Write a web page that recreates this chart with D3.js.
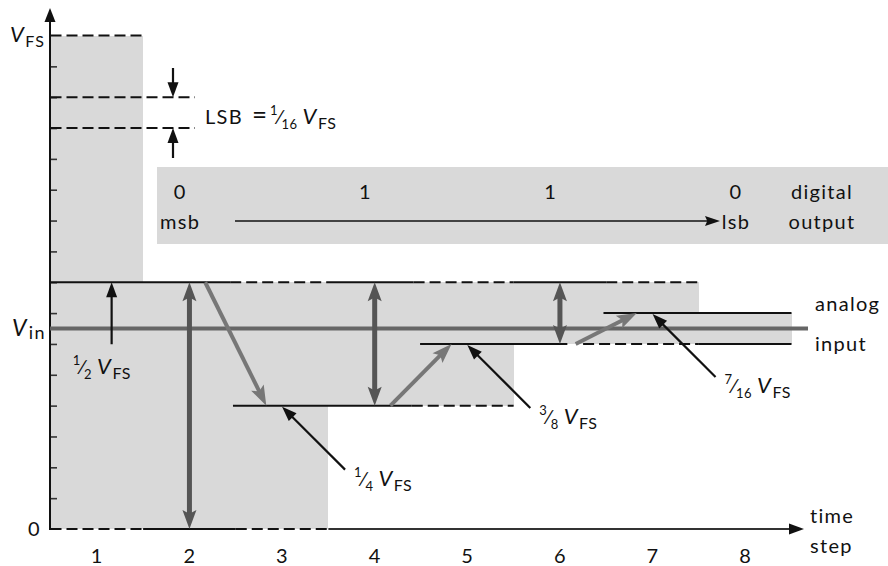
<!DOCTYPE html>
<html><head><meta charset="utf-8">
<script src="https://cdn.jsdelivr.net/npm/d3@7"></script>
<style>
body{margin:0;background:#fff}
svg{display:block}
text{font-family:Lato,"Open Sans",sans-serif;fill:#111;font-size:20px;letter-spacing:1.3px}
</style>
</head><body>
<svg id="chart" width="888" height="566"></svg>
<script>
// ---------------- data ----------------
const steps = [1, 2, 3, 4, 5, 6, 7, 8];
const stepLabels = ["1", "2", "3", "4", "5", "6", "7", "8"];
const fullScale = 16;            // levels in LSB (1/16 V_FS)
const vIn = 6.5;                 // analog input, in LSB
const rangeLow  = [0, 0, 0, 4, 4, 6, 6, 6];   // shaded search range per step
const rangeHigh = [16, 8, 8, 8, 8, 8, 8, 7];
const yTickLevels = [1, 2, 3, 4, 5, 6, 7, 8, 9, 10, 11, 12, 13, 14, 15];
const bits = ["0", "1", "1", "0"];
const bitSteps = [1.9, 3.9, 5.9, 7.9];
const compareSteps = [2, 4, 6];
const compareLow = [0, 4, 6];
const compareHigh = [8, 8, 8];
const moveFrom = [8, 4, 6];
const moveTo = [4, 6, 7];
const calloutSteps = [3, 5, 7];
const calloutLevels = [4, 6, 7];
const calloutNum = ["1", "3", "7"];
const calloutDen = ["4", "8", "16"];
// horizontal reference levels: level, from step, to step, dashed?
const segLevel  = [16, 14, 13, 8, 8, 8, 8, 8, 8, 0, 0, 0, 4, 4, 6, 6, 6, 7];
const segFrom   = [0.5, 0.5, 0.5, 0.5, 2.44, 3.55, 4.42, 5.5, 6.5, 0.5, 1.5, 2.5, 2.47, 4.4, 4.49, 6.25, 7.5, 6.47];
const segTo     = [1.5, 2.06, 2.06, 2.44, 3.55, 4.42, 5.5, 6.5, 7.5, 1.5, 2.5, 3.5, 4.4, 5.5, 6.08, 7.5, 8.5, 8.5];
const segDashed = [true, true, true, false, true, false, true, false, true, true, false, true, false, true, false, true, false, false];

// ---------------- setup ----------------
const svg = d3.select("#chart");
const x = d3.scaleLinear().domain([0.5, 8.5]).range([50.5, 791.5]);
const y = d3.scaleLinear().domain([0, fullScale]).range([529, 35.5]);
const gray = "#d9d9d9";
const ink = "#111";

function head(g, tx, ty, ang, len, wid, notch, color) {
  const ux = Math.cos(ang), uy = Math.sin(ang);
  const px = -uy, py = ux;
  const bx = tx - ux * len, by = ty - uy * len;
  const nx = tx - ux * len * (1 - notch), ny = ty - uy * len * (1 - notch);
  const pts = [[tx, ty], [bx + px * wid / 2, by + py * wid / 2], [nx, ny], [bx - px * wid / 2, by - py * wid / 2]];
  g.append("path").attr("d", "M" + pts.map(p => p.join(",")).join("L") + "Z").attr("fill", color);
}
function arrow(g, x1, y1, x2, y2, o) {
  const ang = Math.atan2(y2 - y1, x2 - x1);
  const ux = Math.cos(ang), uy = Math.sin(ang);
  const cut = o.len * (1 - o.notch) * 0.9;
  let sx = x1, sy = y1, ex = x2 - ux * cut, ey = y2 - uy * cut;
  if (o.both) { sx = x1 + ux * cut; sy = y1 + uy * cut; }
  g.append("line").attr("x1", sx).attr("y1", sy).attr("x2", ex).attr("y2", ey)
    .attr("stroke", o.color).attr("stroke-width", o.w);
  head(g, x2, y2, ang, o.len, o.wid, o.notch, o.color);
  if (o.both) head(g, x1, y1, ang + Math.PI, o.len, o.wid, o.notch, o.color);
}
function fracVfs(g, xp, yb, num, den, prefix) {
  const t = g.append("text").attr("x", xp).attr("y", yb).style("letter-spacing", "0.5px");
  if (prefix) {
    t.append("tspan").text("LSB").style("letter-spacing", "1.3px");
    t.append("tspan").text("=").style("font-size", "26px").attr("dx", 9);
    t.append("tspan").text(" ").style("font-size", "8px");
  }
  t.append("tspan").text(num).style("font-size", "13px").attr("dy", -9);
  t.append("tspan").text("\u2044").style("font-size", "20px").attr("dy", 9);
  t.append("tspan").text(den).style("font-size", "13px").attr("dy", 5);
  t.append("tspan").text("V").style("font-style", "italic").style("font-size", "22px").attr("dy", -5).attr("dx", 5);
  t.append("tspan").text("FS").style("font-size", "16px").attr("dy", 5).attr("dx", 1);
  return t;
}

// ---------------- shaded ranges ----------------
svg.append("g").selectAll("rect").data(steps).join("rect")
  .attr("x", (d) => x(d - 0.5)).attr("width", (d) => x(d + 0.5) - x(d - 0.5))
  .attr("y", (d, i) => y(rangeHigh[i])).attr("height", (d, i) => y(rangeLow[i]) - y(rangeHigh[i]))
  .attr("fill", gray).attr("shape-rendering", "crispEdges");

// digital output band
svg.append("rect").attr("x", 157).attr("y", 167).attr("width", 731).attr("height", 77).attr("fill", gray);

// ---------------- y axis ticks ----------------
const yAx = svg.append("g").attr("transform", "translate(50,0)")
  .call(d3.axisRight(y).tickValues(yTickLevels).tickSize(7).tickFormat(""));
yAx.select(".domain").remove();
yAx.selectAll(".tick line").attr("stroke", "#333").attr("stroke-width", 1.6);

// ---------------- level segments ----------------
svg.append("g").selectAll("line").data(segLevel).join("line")
  .attr("x1", (d, i) => x(segFrom[i])).attr("x2", (d, i) => x(segTo[i]))
  .attr("y1", (d) => y(d)).attr("y2", (d) => y(d))
  .attr("stroke", ink).attr("stroke-width", 2)
  .attr("stroke-dasharray", (d, i) => segDashed[i] ? "11,5" : null);

// ---------------- axes ----------------
svg.append("line").attr("x1", 50).attr("x2", 50).attr("y1", y(0) + 1).attr("y2", 18)
  .attr("stroke", ink).attr("stroke-width", 2);
head(svg, 50, 8, -Math.PI / 2, 14, 11, 0, ink);
svg.append("line").attr("x1", x(3.5)).attr("x2", 792).attr("y1", y(0)).attr("y2", y(0))
  .attr("stroke", "#333").attr("stroke-width", 2);
head(svg, 804, y(0), 0, 15, 11, 0, ink);
const xAx = svg.append("g").attr("transform", `translate(0,${y(0)})`)
  .call(d3.axisBottom(x).tickValues(steps).tickSize(0).tickPadding(20).tickFormat((d, i) => stepLabels[i]));
xAx.select(".domain").remove();
xAx.selectAll("text").style("font-family", "Lato,'Open Sans',sans-serif").style("font-size", "20px").attr("fill", ink);

// ---------------- analog input ----------------
svg.append("line").attr("x1", 50).attr("x2", 808).attr("y1", y(vIn)).attr("y2", y(vIn))
  .attr("stroke", "#666").attr("stroke-width", 4);

// ---------------- comparison arrows ----------------
const darkArrow = {color: "#555", w: 5, len: 19, wid: 14, notch: 0.2, both: true};
compareSteps.forEach((s, i) => {
  arrow(svg, x(s), y(compareHigh[i]), x(s), y(compareLow[i]), darkArrow);
});
const moveArrow = {color: "#777", w: 4, len: 20, wid: 14, notch: 0.2, both: false};
compareSteps.forEach((s, i) => {
  arrow(svg, x(s + 0.17), y(moveFrom[i]), x(s + 0.83), y(moveTo[i]), moveArrow);
});

// ---------------- callouts ----------------
const blackArrow = {color: ink, w: 2.2, len: 15, wid: 11, notch: 0, both: false};
calloutSteps.forEach((s, i) => {
  const tx = x(s), ty = y(calloutLevels[i]) + 1;
  arrow(svg, tx + 63, ty + 63, tx, ty, blackArrow);
  fracVfs(svg, tx + 72, ty + 79, calloutNum[i], calloutDen[i]);
});
const hx = x(1.16);
arrow(svg, hx, y(8) + 62, hx, y(8), blackArrow);
fracVfs(svg, hx - 39, y(8) + 92, "1", "2");

// LSB marker
const lx = 173;
arrow(svg, lx, 68, lx, y(14), blackArrow);
arrow(svg, lx, 158, lx, y(13), blackArrow);
fracVfs(svg, 205, 124, "1", "16", true);

// ---------------- axis labels ----------------
const vfs = svg.append("text").attr("x", 10).attr("y", y(fullScale) + 6);
vfs.append("tspan").text("V").style("font-style", "italic").style("font-size", "22px");
vfs.append("tspan").text("FS").style("font-size", "16px").attr("dy", 5).attr("dx", 0);
const vin = svg.append("text").attr("x", 12).attr("y", y(vIn) + 7);
vin.append("tspan").text("V").style("font-style", "italic").style("font-size", "23px");
vin.append("tspan").text("in").style("font-size", "18px").attr("dy", 3).attr("dx", 1);
svg.append("text").attr("x", 28).attr("y", y(0) + 7).text("0");

svg.append("text").attr("x", 810).attr("y", 523).text("time");
svg.append("text").attr("x", 810).attr("y", 553).text("step");
svg.append("text").attr("x", 815).attr("y", 311).text("analog");
svg.append("text").attr("x", 815).attr("y", 351).text("input");

// ---------------- digital output ----------------
svg.append("g").selectAll("text").data(bits).join("text")
  .attr("x", (d, i) => x(bitSteps[i])).attr("y", 199).attr("text-anchor", "middle").text(d => d);
svg.append("text").attr("x", x(bitSteps[0])).attr("y", 229).attr("text-anchor", "middle").text("msb");
svg.append("text").attr("x", x(bitSteps[3])).attr("y", 229).attr("text-anchor", "middle").text("lsb");
svg.append("text").attr("x", 822).attr("y", 199).attr("text-anchor", "middle").text("digital");
svg.append("text").attr("x", 822).attr("y", 229).attr("text-anchor", "middle").text("output");
arrow(svg, 235, 221, 720, 221, {color: ink, w: 1.6, len: 15, wid: 10, notch: 0.15, both: false});
</script>
</body></html>
